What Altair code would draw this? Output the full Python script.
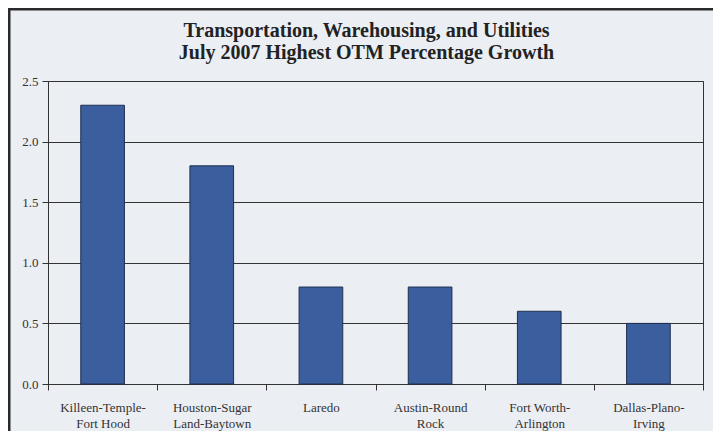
import altair as alt
import pandas as pd

categories = ["Killeen-Temple-|Fort Hood", "Houston-Sugar|Land-Baytown", "Laredo",
              "Austin-Round|Rock", "Fort Worth-|Arlington", "Dallas-Plano-|Irving"]
values = [2.3, 1.8, 0.8, 0.8, 0.6, 0.5]
y_ticks = [0.0, 0.5, 1.0, 1.5, 2.0, 2.5]
title_lines = ["Transportation, Warehousing, and Utilities",
               "July 2007 Highest OTM Percentage Growth"]

df = pd.DataFrame({"area": categories, "growth": values})

BG = "#ebeef3"
FONT = "Liberation Serif"

bars = alt.Chart(df).mark_bar(
    width=alt.RelativeBandSize(0.4), color="#3a5e9e", stroke="#1f2f4f", strokeWidth=1
).encode(
    x=alt.X("area:N", sort=categories, title=None,
            scale=alt.Scale(paddingInner=0, paddingOuter=0),
            axis=alt.Axis(tickBand="extent", labelAngle=0,
                          labelExpr="split(datum.label, '|')",
                          labelLineHeight=16, labelPadding=11, tickSize=6,
                          labelFontSize=13, labelColor="#333", domainColor="#333",
                          tickColor="#333", grid=False, labelFont=FONT)),
    y=alt.Y("growth:Q", title=None,
            scale=alt.Scale(domain=[0, 2.5], nice=False),
            axis=alt.Axis(values=y_ticks, format=".1f", tickSize=6, labelPadding=4,
                          labelFontSize=13, labelColor="#333", domainColor="#333",
                          tickColor="#333", grid=True, gridColor="#333", gridOpacity=1,
                          labelFont=FONT)),
)

frame_left = alt.Chart(alt.Data(values=[{}])).mark_rule(
    stroke="#2a2a2a", strokeWidth=3
).encode(x=alt.value(-39), y=alt.value(-73.5), y2=alt.value(460))

frame_top = alt.Chart(alt.Data(values=[{}])).mark_rule(
    stroke="#2a2a2a", strokeWidth=3
).encode(x=alt.value(-40.5), x2=alt.value(760), y=alt.value(-72))

chart = alt.layer(bars, frame_left, frame_top).properties(
    width=655, height=303,
    background=BG,
    autosize=alt.AutoSizeParams(type="none"),
    padding={"left": 40, "top": 73, "right": 10, "bottom": 47},
    title=alt.TitleParams(title_lines, font=FONT, fontSize=20, fontWeight="bold",
                          color="#222", anchor="middle", lineHeight=22, offset=-57, dx=-9),
).configure_view(stroke="#333", strokeWidth=1, fill=BG)

chart.save("out.html", embed_options={"renderer": "svg", "actions": False})
